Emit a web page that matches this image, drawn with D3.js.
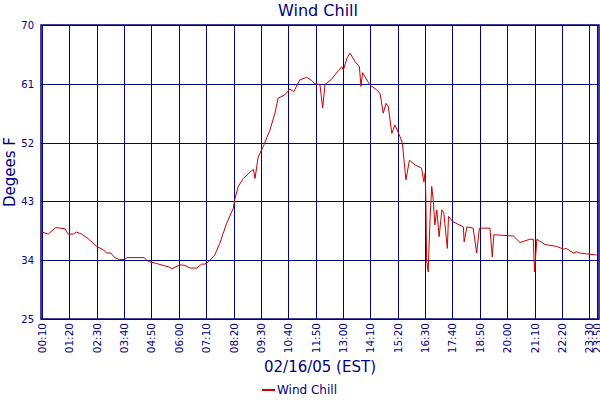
<!DOCTYPE html>
<html>
<head>
<meta charset="utf-8">
<script src="https://cdn.jsdelivr.net/npm/d3@7"></script>
<style>
	body { margin: 0; background: #fff; }
	text { font-family: "DejaVu Sans", Verdana, sans-serif; fill: #000080; }
</style>
</head>
<body>
<svg id="chart" width="600" height="400"></svg>
<script>
// readings, 02/16/05
var times = ["00:10","00:26","00:45","01:09","01:17","01:30","01:38","01:51","02:08","02:30","02:47","02:55","03:06","03:16","03:28","03:40","03:48","04:31","04:42","05:03","05:20","05:33","05:43","06:03","06:16","06:29","06:46","06:58","07:07","07:15","07:32","07:45","08:02","08:19","08:24","08:32","08:45","09:02","09:11","09:15","09:23","09:36","09:53","10:06","10:14","10:31","10:44","10:54","11:07","11:10","11:27","11:40","11:48","12:01","12:08","12:14","12:31","12:48","12:57","13:01","13:10","13:18","13:31","13:42","13:46","13:50","14:09","14:26","14:35","14:43","14:50","14:56","15:05","15:13","15:26","15:32","15:41","15:50","16:04","16:21","16:27","16:30","16:32","16:34","16:38","16:43","16:47","16:51","16:55","17:00","17:06","17:13","17:18","17:27","17:30","17:41","18:08","18:10","18:17","18:33","18:42","18:49","19:16","19:22","19:26","20:16","20:33","20:58","21:07","21:10","21:16","21:37","22:07","22:24","22:32","22:49","22:58","23:06","23:32","23:49"];
var chill = [38.3,38.0,39.0,38.8,38.0,38.0,38.3,38.0,37.3,36.1,35.6,35.1,35.1,34.4,34.1,34.1,34.4,34.4,33.8,33.5,33.2,33.0,32.7,33.3,33.2,32.8,32.8,33.4,33.4,33.7,34.8,36.6,39.6,41.9,43.5,45.3,46.5,47.5,47.9,46.5,49.8,51.4,53.9,56.5,58.8,59.3,60.2,59.8,61.3,61.6,62.0,61.5,61.0,60.9,57.3,60.9,61.7,63.0,63.6,63.1,64.9,65.7,64.4,63.6,60.6,62.7,60.8,60.1,59.5,56.5,58.0,57.5,53.4,54.7,52.9,51.9,46.3,49.3,48.6,48.1,46.0,47.3,43.7,34.0,32.2,40.7,45.3,43.2,39.4,41.7,37.6,41.7,41.2,35.8,40.7,39.9,39.1,36.8,39.1,38.9,35.1,38.9,38.9,34.5,37.9,37.7,36.7,37.2,37.2,32.2,37.2,36.4,36.1,35.7,35.8,35.1,35.3,35.1,34.9,34.8];
var xTickLabels = ["00:10","01:20","02:30","03:40","04:50","06:00","07:10","08:20","09:30","10:40","11:50","13:00","14:10","15:20","16:30","17:40","18:50","20:00","21:10","22:20","23:30","23:50"];
var yTicks = [25, 34, 43, 52, 61, 70];

(function () {
	var parse = d3.timeParse("%Y-%m-%d %H:%M");
	var day = "2005-02-16 ";
	var data = times.map(function (t, i) { return { t: parse(day + t), v: chill[i] }; });

	var svg = d3.select("#chart");
	var navy = "#000080";
	var pLeft = 41, pRight = 599, pTop = 25, pBottom = 319;

	var x = d3.scaleTime()
		.domain([parse(day + "00:10"), parse(day + "23:55")])
		.range([pLeft + 1, pRight]);
	var y = d3.scaleLinear().domain([25, 70]).range([pBottom, pTop]);
	var xt = function (d) { return Math.round(x(parse(day + d))) + 0.5; };

	// grid
	svg.append("g").selectAll("line").data(yTicks).join("line")
		.attr("x1", pLeft).attr("x2", pRight)
		.attr("y1", function (d) { return Math.round(y(d)) + 0.5; })
		.attr("y2", function (d) { return Math.round(y(d)) + 0.5; })
		.attr("stroke", navy).attr("stroke-width", 1);
	svg.append("g").selectAll("line").data(xTickLabels).join("line")
		.attr("x1", xt).attr("x2", xt)
		.attr("y1", pTop).attr("y2", pBottom)
		.attr("stroke", navy).attr("stroke-width", 1);
	svg.append("rect")
		.attr("x", pLeft).attr("y", pTop).attr("width", pRight - pLeft).attr("height", pBottom - pTop)
		.attr("fill", "none").attr("stroke", navy).attr("stroke-width", 1.5);

	// tick labels
	svg.append("g").selectAll("text").data(yTicks).join("text")
		.attr("x", 34).attr("y", function (d) { return y(d) + 4; })
		.attr("text-anchor", "end").attr("font-size", 10).text(function (d) { return d; });
	svg.append("g").selectAll("text").data(xTickLabels).join("text")
		.attr("transform", function (d) {
			return "translate(" + (x(parse(day + d)) + 4) + "," + (pBottom + 4) + ") rotate(-90)";
		})
		.attr("text-anchor", "end").attr("font-size", 10.5).text(function (d) { return d; });

	// series
	svg.append("path").datum(data)
		.attr("fill", "none").attr("stroke", "#cc0000").attr("stroke-width", 1)
		.attr("d", d3.line().x(function (d) { return x(d.t); }).y(function (d) { return y(d.v); }));

	// titles
	svg.append("text").attr("x", 318).attr("y", 16).attr("text-anchor", "middle")
		.attr("font-size", 16).text("Wind Chill");
	svg.append("text").attr("transform", "translate(15,172) rotate(-90)").attr("text-anchor", "middle")
		.attr("font-size", 15).text("Degees F");
	svg.append("text").attr("x", 320).attr("y", 372).attr("text-anchor", "middle")
		.attr("font-size", 15).text("02/16/05 (EST)");

	// legend
	svg.append("line").attr("x1", 262).attr("x2", 275).attr("y1", 390).attr("y2", 390)
		.attr("stroke", "#cc0000").attr("stroke-width", 2);
	svg.append("text").attr("x", 277).attr("y", 394).attr("font-size", 12).text("Wind Chill");
})();
</script>
</body>
</html>
